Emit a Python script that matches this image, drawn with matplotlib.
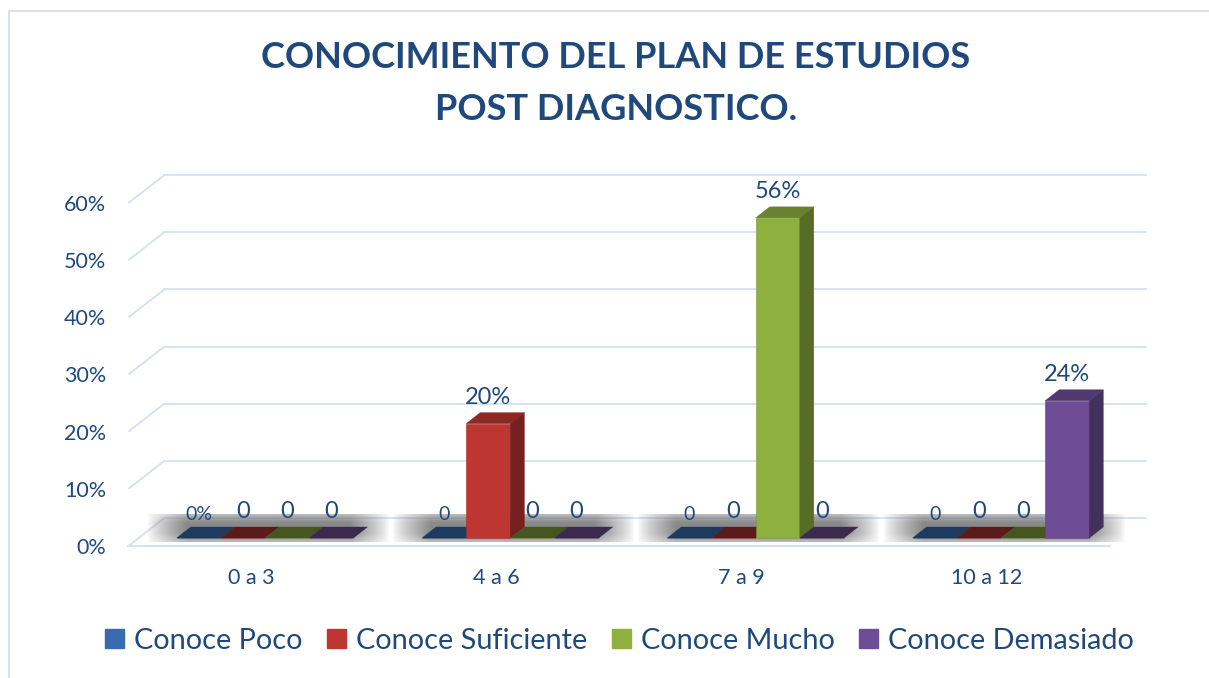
import matplotlib
matplotlib.use("Agg")
import matplotlib.pyplot as plt
from matplotlib.patches import Polygon, Patch
from matplotlib.lines import Line2D
import matplotlib.colors as mcolors
import numpy as np

plt.rcParams['font.family'] = ['Lato', 'DejaVu Sans']

# datos
categorias = ["0 a 3", "4 a 6", "7 a 9", "10 a 12"]
series = ["Conoce Poco", "Conoce Suficiente", "Conoce Mucho", "Conoce Demasiado"]
poco = [0.00, 0.00, 0.00, 0.00]
suficiente = [0.00, 0.20, 0.00, 0.00]
mucho = [0.00, 0.00, 0.56, 0.00]
demasiado = [0.00, 0.00, 0.00, 0.24]
yticks = [0.0, 0.1, 0.2, 0.3, 0.4, 0.5, 0.6]
ylabels = ["0%", "10%", "20%", "30%", "40%", "50%", "60%"]

colores = ["#3A6BB0", "#BE3632", "#8DB03F", "#6E4D96"]
tapa_cero = ["#1E3A5E", "#5C1B1B", "#47561F", "#3A2A4E"]
azul = "#1F497D"
grid_col = "#D6E2F2"

W, H = 1209, 678
fig = plt.figure(figsize=(W / 100, H / 100), dpi=100)
ax = fig.add_axes([128.4 / W, (H - 546) / H, 981.2 / W, 343 / H])
ax.set_xlim(-0.5, 3.5)
ax.set_ylim(0, 0.6)
ax.set_facecolor("none")
for s in ax.spines.values():
    s.set_visible(False)

ppx = 981.2 / 4.0
ppy = 343 / 0.6


def d(dx, dy):
    return dx / ppx, dy / ppy


def oscuro(c, f):
    r, g, b = mcolors.to_rgb(c)
    return (r * f, g * f, b * f)


# paredes / grilla
wdx, wdy = d(36, 28)
for yv in yticks:
    ax.plot([-0.5, -0.5 + wdx], [yv, yv + wdy], color=grid_col, lw=1.4,
            clip_on=False, zorder=1, solid_capstyle='butt')
    ax.plot([-0.5 + wdx, 3.5 + wdx], [yv + wdy, yv + wdy], color=grid_col,
            lw=1.4, clip_on=False, zorder=1)
ax.plot([-0.5, 3.5], [0, 0], color=grid_col, lw=1.4, clip_on=False, zorder=1)

w = 0.18
bdx, bdy = d(14, 8)
ddx, ddy = d(14, 11)
valores = [poco, suficiente, mucho, demasiado]

# sombra bajo cada grupo
gx = np.linspace(0, 1, 200)
perfil = np.clip(np.minimum(gx / 0.16, (1 - gx) / 0.16), 0, 1) ** 0.8
gy = np.linspace(0, 1, 30)
perfil_y = 0.6 + 0.4 * np.clip(np.minimum(gy / 0.3, (1 - gy) / 0.3), 0, 1)
alpha = np.outer(perfil_y, perfil) * 0.92
img = np.zeros((30, 200, 4))
img[..., :3] = 0.5
img[..., 3] = alpha
sx0, sy0 = d(30, 4)
sx1, sy1 = d(22, 24)
for i in range(len(categorias)):
    left = i - 2 * w + bdx - sx0
    right = i + 2 * w + bdx + ddx + sx1
    im = ax.imshow(img, extent=[left, right, bdy - sy0, bdy + sy1],
                   aspect='auto', interpolation='bilinear', zorder=2)
    im.set_clip_on(False)

# barras
for i in range(len(categorias)):
    for j, vals in enumerate(valores):
        v = vals[i]
        x0 = i - 2 * w + j * w + bdx
        y0 = bdy
        c = colores[j]
        ax.bar(x0, v, width=w, bottom=y0, align='edge', color=c,
               edgecolor=oscuro(c, 0.85), lw=0.4, zorder=3, clip_on=False)
        top = [(x0, y0 + v), (x0 + w, y0 + v),
               (x0 + w + ddx, y0 + v + ddy), (x0 + ddx, y0 + v + ddy)]
        tc = oscuro(c, 0.74) if v > 0 else tapa_cero[j]
        ax.add_patch(Polygon(top, closed=True, facecolor=tc, edgecolor=tc,
                             lw=0.3, zorder=3, clip_on=False))
        if v > 0:
            side = [(x0 + w, y0), (x0 + w + ddx, y0 + ddy),
                    (x0 + w + ddx, y0 + v + ddy), (x0 + w, y0 + v)]
            sc = oscuro(c, 0.62)
            ax.add_patch(Polygon(side, closed=True, facecolor=sc, edgecolor=sc,
                                 lw=0.3, zorder=3, clip_on=False))
        if v > 0 or (i == 0 and j == 0):
            txt = f"{v:.0%}"
        else:
            txt = "0"
        fs = 14 if j == 0 else 17
        dy_txt = 17 if j == 0 else 19
        ax.annotate(txt, (x0 + w / 2, y0 + v), xytext=(0, dy_txt),
                    textcoords='offset points', ha='center', va='center',
                    fontsize=fs, color=azul, zorder=5, annotation_clip=False)

ax.set_xticks(range(len(categorias)), categorias)
ax.set_yticks(yticks, ylabels)
ax.tick_params(axis='x', length=0, pad=16, labelsize=15.5, labelcolor=azul)
ax.tick_params(axis='y', length=0, pad=16, labelsize=15.5, labelcolor=azul)

fig.text(616 / W, 1 - 57 / H, "CONOCIMIENTO DEL PLAN DE ESTUDIOS",
         ha='center', va='center', fontsize=26, fontweight='bold', color=azul)
fig.text(616 / W, 1 - 110 / H, "POST DIAGNOSTICO.",
         ha='center', va='center', fontsize=26, fontweight='bold', color=azul)

handles = [Patch(facecolor=c, edgecolor=c) for c in colores]
fig.legend(handles, series, loc='center', bbox_to_anchor=(619.5 / W, 1 - 641 / H),
           ncol=4, frameon=False, fontsize=20.8, labelcolor=azul,
           handlelength=0.65, handleheight=0.65, handletextpad=0.35,
           columnspacing=0.85)

# marco
fig.add_artist(Line2D([9 / W, 9 / W], [0, 1 - 11 / H], color="#D3DAE4", lw=1.2))
fig.add_artist(Line2D([9 / W, 1], [1 - 11 / H, 1 - 11 / H], color="#D3DAE4", lw=1.2))

fig.savefig("out.png", dpi=100)
